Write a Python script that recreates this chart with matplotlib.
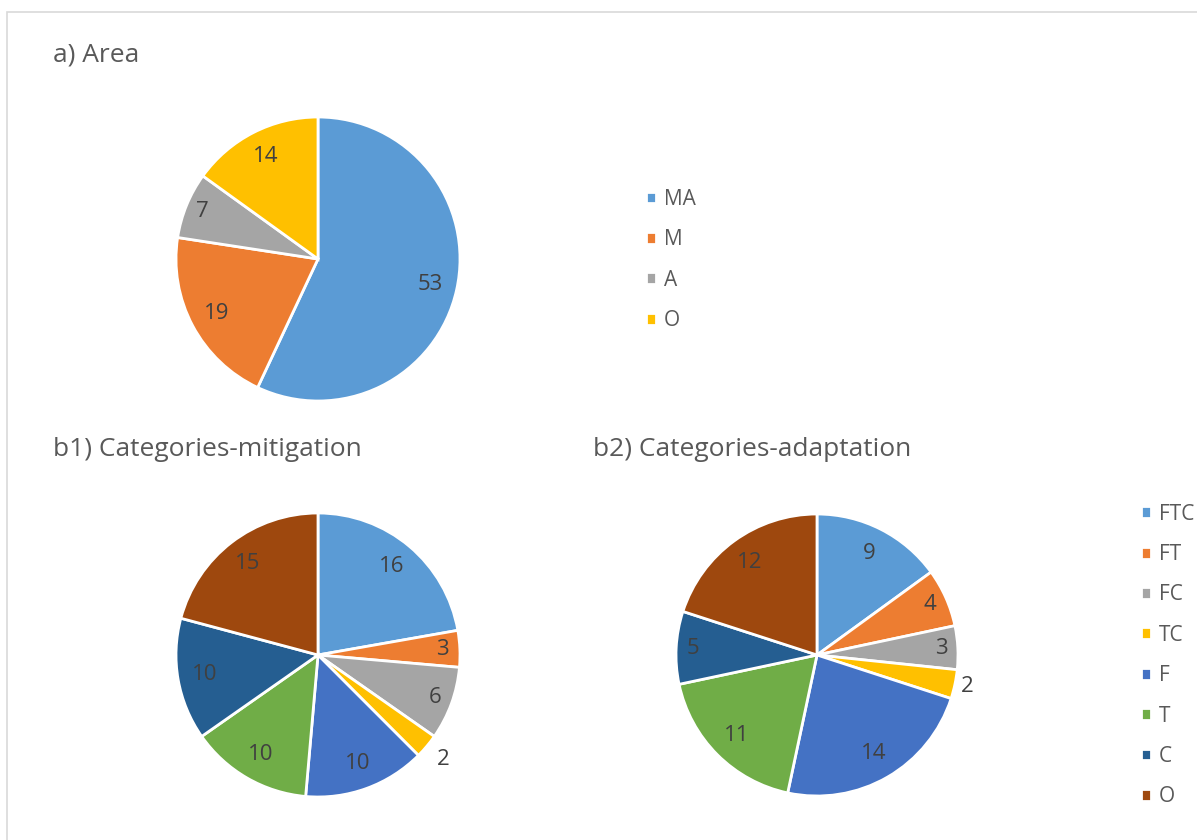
import matplotlib.pyplot as plt
import numpy as np
from matplotlib.patches import Rectangle

plt.rcParams['font.family'] = ['Open Sans', 'DejaVu Sans']

# data
area_labels = ['MA', 'M', 'A', 'O']
area_values = [53, 19, 7, 14]
cat_labels = ['FTC', 'FT', 'FC', 'TC', 'F', 'T', 'C', 'O']
mitigation_values = [16, 3, 6, 2, 10, 10, 10, 15]
adaptation_values = [9, 4, 3, 2, 14, 11, 5, 12]

area_colors = ['#5B9BD5', '#ED7D31', '#A5A5A5', '#FFC000']
cat_colors = ['#5B9BD5', '#ED7D31', '#A5A5A5', '#FFC000',
              '#4472C4', '#70AD47', '#255E91', '#9E480E']

W, H = 1197, 840
fig = plt.figure(figsize=(W / 100, H / 100), dpi=100)

# thin chart-area border (only top and left edges are visible)
fig.patches.append(Rectangle((7 / W, -0.5), 2, 1.5 - 12 / H,
                             transform=fig.transFigure, fill=False,
                             edgecolor='#d9d9d9', lw=1.2))


def draw_pie(cx, cy, r, values, colors, outside):
    ax = fig.add_axes([(cx - 1.2 * r) / W, 1 - (cy + 1.2 * r) / H,
                       2.4 * r / W, 2.4 * r / H])
    wedges, _ = ax.pie(values, colors=colors, startangle=90,
                       counterclock=False,
                       wedgeprops=dict(edgecolor='white', linewidth=2))
    ax.set_xlim(-1.2, 1.2)
    ax.set_ylim(-1.2, 1.2)
    total = sum(values)
    # labels: inside near the rim, tiny slices outside
    for w, v in zip(wedges, values):
        ang = np.deg2rad((w.theta1 + w.theta2) / 2)
        frac = v / total
        if frac < 0.04:
            d = outside
        elif frac < 0.09:
            d = 0.88
        else:
            d = 0.81
        ax.text(d * np.cos(ang), d * np.sin(ang), str(v),
                ha='center', va='center', fontsize=16, color='#404040')
    return wedges


wa = draw_pie(318, 259, 142, area_values, area_colors, 1.12)
wb1 = draw_pie(318, 655, 142, mitigation_values, cat_colors, 1.15)
wb2 = draw_pie(817, 655, 141, adaptation_values, cat_colors, 1.09)

title_kw = dict(fontsize=19, color='#595959', va='center', ha='left')
fig.text(53 / W, 1 - 55 / H, 'a) Area', **title_kw)
fig.text(53 / W, 1 - 450 / H, 'b1) Categories-mitigation', **title_kw)
fig.text(593 / W, 1 - 450 / H, 'b2) Categories-adaptation', **title_kw)

leg_kw = dict(loc='center left', frameon=False, fontsize=15,
              handlelength=0.5, handleheight=0.5, handletextpad=0.35,
              labelspacing=0.93, labelcolor='#595959', borderpad=0,
              borderaxespad=0)
fig.legend(wa, area_labels, bbox_to_anchor=(646 / W, 1 - 260 / H), **leg_kw)
fig.legend(wb1, cat_labels, bbox_to_anchor=(1141 / W, 1 - 655.5 / H), **leg_kw)

fig.savefig('out.png', dpi=100)
